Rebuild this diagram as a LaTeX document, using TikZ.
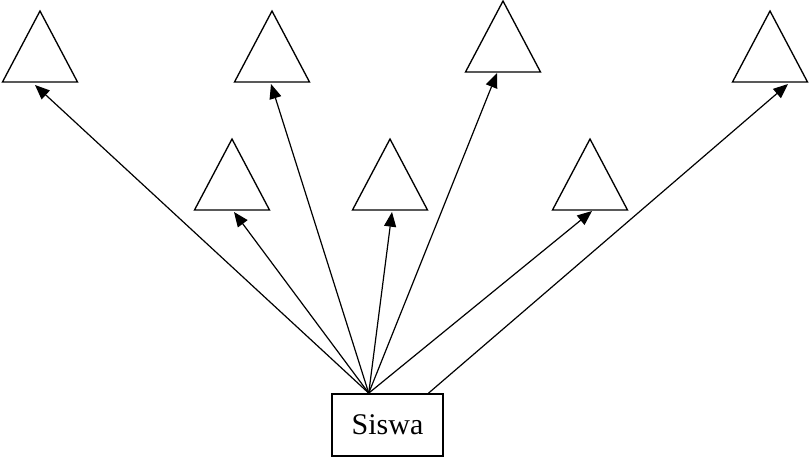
\documentclass[tikz,border=0pt]{standalone}
\usepackage{fontspec}
\setmainfont{Liberation Serif}
\usetikzlibrary{arrows.meta,calc}
\begin{document}
\begin{tikzpicture}[x=0.75pt,y=-0.75pt,
  tri/.style={draw,line width=1pt,line join=miter},
  link/.style={line width=0.9pt,-{Triangle[length=11pt,width=9pt]}},
  box/.style={draw,line width=1.3pt,minimum width=83pt,minimum height=46.5pt,inner sep=0pt,font=\fontsize{22.5}{26}\selectfont}]
\useasboundingbox (0,0) rectangle (809,460);
% triangles: apex at (x,y), base 75 wide, 71 high; tips name the arrow targets
\newcommand\triangleat[4]{%
  \draw[tri] (#1-37.5,#2+71) -- (#1,#2) -- (#1+37.5,#2+71) -- cycle;
  \coordinate (#3) at (#4);}
\triangleat{40}{11}{t1}{35,85}
\triangleat{272}{11}{t2}{271,84}
\triangleat{503}{1}{t3}{497,73}
\triangleat{770}{11}{t4}{788,84}
\triangleat{232}{139}{t5}{234,212}
\triangleat{390}{139}{t6}{392,212}
\triangleat{590}{139}{t7}{592,211}
% source box
\node[box] (siswa) at (387.5,425) {Siswa};
\coordinate (s1) at ($(siswa.north west)!0.333!(siswa.north east)$);
\coordinate (s2) at ($(siswa.north west)!0.865!(siswa.north east)$);
\foreach \t in {t1,t2,t3,t5,t6,t7}
  \draw[link] (s1) -- (\t);
\draw[link] (s2) -- (t4);
\end{tikzpicture}
\end{document}
